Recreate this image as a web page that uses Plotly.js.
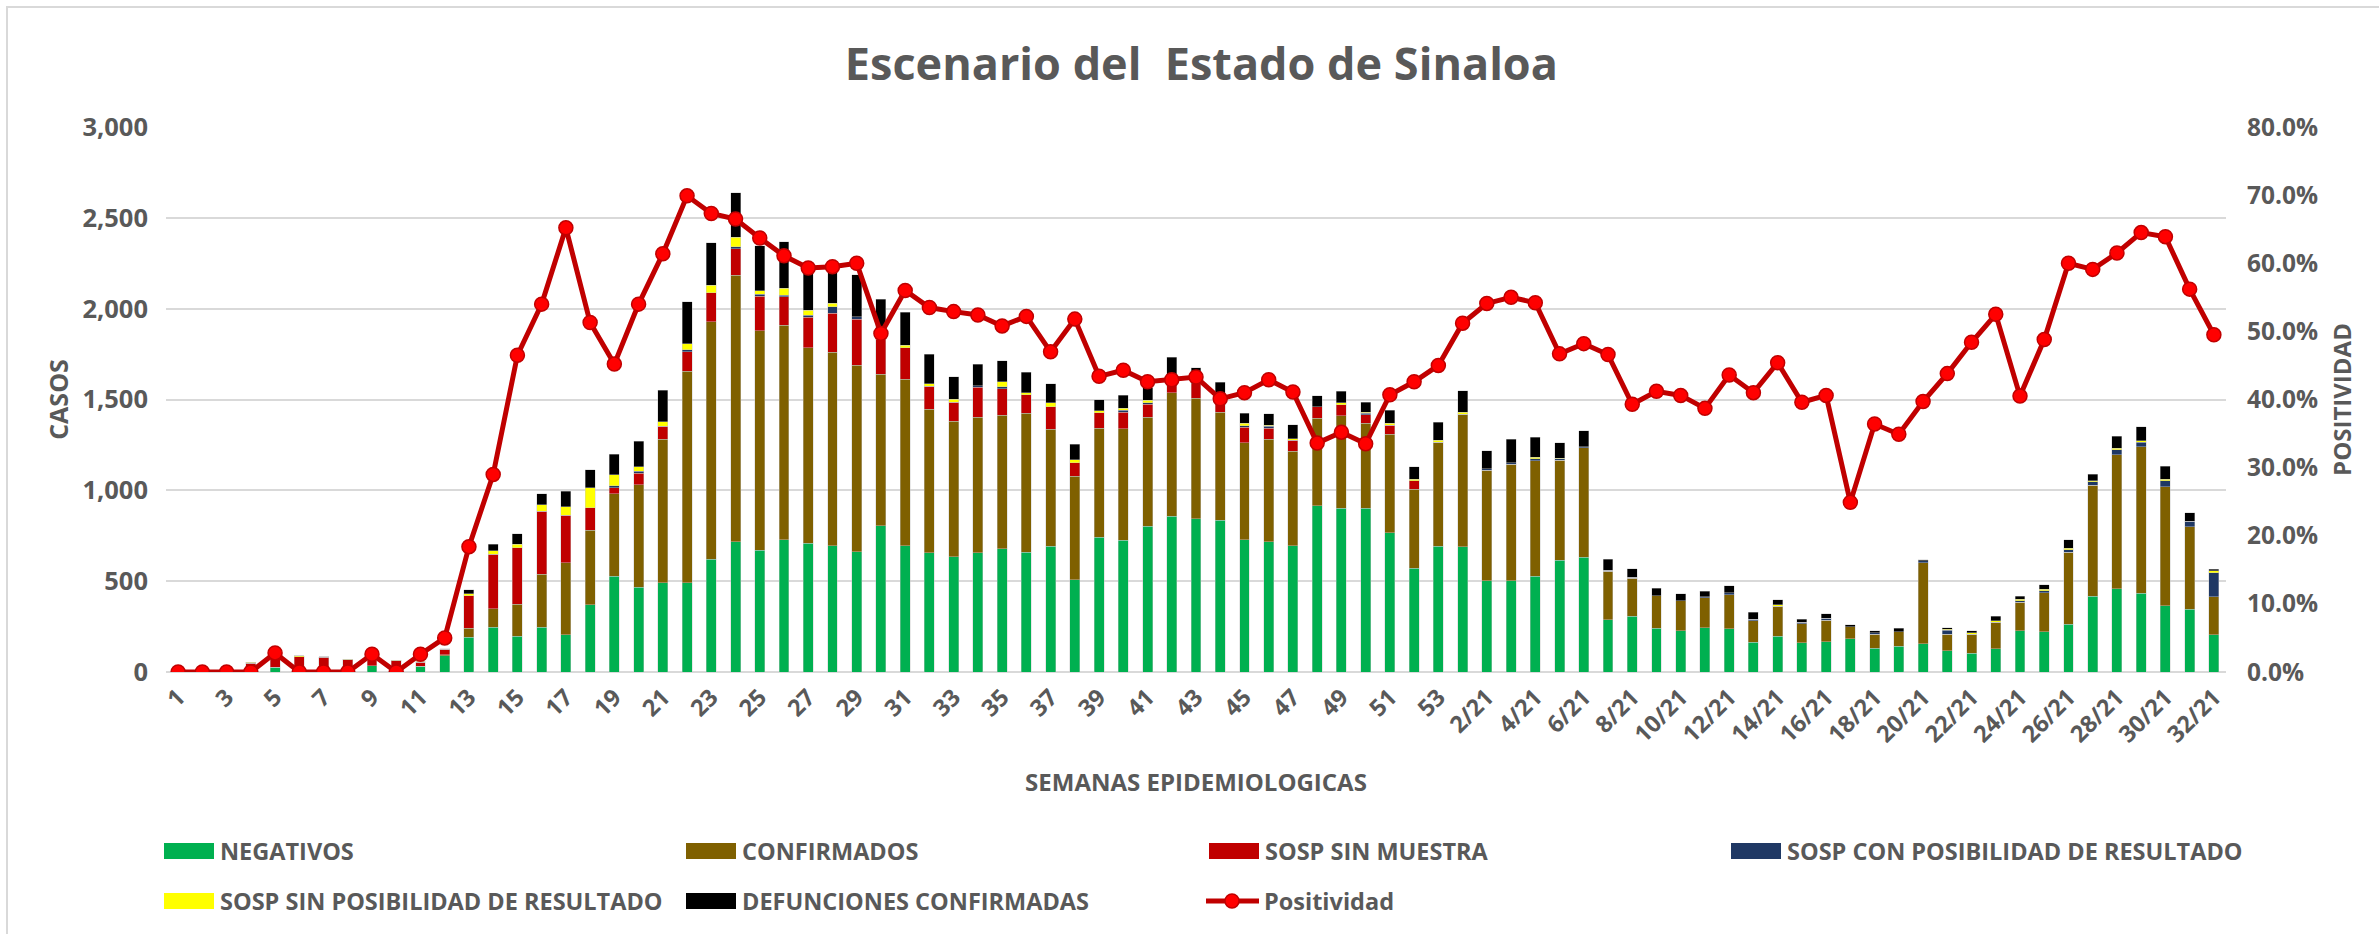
<!DOCTYPE html>
<html><head><meta charset="utf-8">
<script src="https://cdn.plot.ly/plotly-3.0.1.min.js"></script>
<style>
html,body{margin:0;padding:0;background:#fff;overflow:hidden}
#chart{position:absolute;left:0;top:0;width:2379px;height:934px}
#frame{position:absolute;left:6px;top:6px;width:2420px;height:980px;border:2px solid #d9d9d9;box-sizing:border-box;pointer-events:none}
</style>
</head><body>
<div id="chart"></div><div id="frame"></div>
<script>
// ---- categories (epidemiological weeks) ----
var weeks = ['1','2','3','4','5','6','7','8','9','10','11','12','13','14','15','16','17','18','19','20',
 '21','22','23','24','25','26','27','28','29','30','31','32','33','34','35','36','37','38','39','40',
 '41','42','43','44','45','46','47','48','49','50','51','52','53',
 '1/21','2/21','3/21','4/21','5/21','6/21','7/21','8/21','9/21','10/21','11/21','12/21','13/21','14/21','15/21','16/21',
 '17/21','18/21','19/21','20/21','21/21','22/21','23/21','24/21','25/21','26/21','27/21','28/21','29/21','30/21','31/21','32/21'];

var negativos = [0,0,0,0,27,10,20,0,35,0,31,90,191,245,198,245,204,371,528,467,
 491,491,621,717,669,728,708,695,662,804,695,656,634,656,678,658,693,508,743,725,
 801,856,843,836,728,717,695,914,901,901,767,571,693,
 689,502,502,528,615,632,287,306,241,226,243,239,163,198,161,167,
 182,132,141,156,117,104,128,228,221,263,417,458,434,365,345,206];

var confirmados = [0,0,0,0,0,0,0,0,0,0,0,5,50,102,174,293,397,410,452,565,
 791,1164,1308,1466,1210,1182,1077,1064,1027,836,917,791,747,747,734,767,643,569,599,613,
 602,682,665,593,534,565,521,482,510,467,543,434,573,
 730,608,641,636,550,602,267,211,178,167,167,187,119,165,104,119,
 67,76,80,445,91,104,146,156,215,395,610,738,806,654,454,209];

var sospSinMuestra = [0,0,0,48,60,75,60,67,30,62,22,29,178,300,313,347,263,122,35,61,
 70,109,159,146,189,156,169,217,254,191,174,126,104,165,148,100,124,76,85,93,
 70,54,80,65,85,61,61,65,61,48,48,48,0,
 0,0,0,0,0,0,0,0,0,0,0,0,0,0,0,0,
 0,0,0,0,0,0,0,0,0,0,0,0,0,0,0,0];

var sospConPosibilidad = [0,0,0,0,0,0,0,0,0,0,0,0,0,0,0,0,0,0,9,11,
 0,9,0,11,11,7,9,35,13,11,0,0,0,9,9,0,0,0,0,11,
 9,0,0,0,9,9,0,0,0,7,0,0,0,
 0,9,9,9,9,7,7,4,0,0,4,9,9,0,9,9,
 0,9,0,11,22,0,0,9,11,15,20,28,24,35,30,132];

var sospSinPosibilidad = [0,0,0,5,3,5,4,4,2,4,5,0,11,20,17,37,46,111,63,26,
 26,33,41,54,20,39,28,20,0,0,13,15,17,0,30,11,22,15,11,9,
 15,0,0,0,13,7,7,0,9,6,11,7,9,
 11,0,0,9,4,0,0,0,0,0,0,0,0,7,0,0,
 0,0,0,0,4,9,9,7,9,7,7,9,9,7,0,9];

var defunciones = [0,0,0,0,0,0,0,0,0,0,0,4,22,35,59,59,85,100,113,141,
 174,232,235,243,248,256,219,200,232,211,180,161,124,117,113,115,106,87,61,72,
 67,141,87,100,54,63,76,59,65,56,72,69,100,
 117,98,130,111,85,87,61,48,43,39,30,41,37,28,17,26,
 11,11,20,7,9,9,24,17,24,48,35,65,76,72,48,11];

// positivity, in percent
var positividad = [0,0,0,0,2.8,0,0,0,2.6,0,2.6,5.0,18.4,29.0,46.5,54.0,65.2,51.3,45.2,54.0,
 61.4,69.9,67.3,66.5,63.7,61.1,59.3,59.5,60.0,49.7,56.0,53.5,52.9,52.4,50.8,52.2,47.0,51.8,43.4,44.3,
 42.6,42.9,43.3,40.1,41.0,42.9,41.1,33.6,35.2,33.5,40.7,42.6,45.0,
 51.2,54.1,55.0,54.2,46.7,48.2,46.6,39.3,41.2,40.6,38.7,43.6,41.0,45.4,39.6,40.6,
 24.9,36.4,34.9,39.7,43.8,48.4,52.5,40.5,48.8,60.0,59.1,61.5,64.5,63.9,56.2,49.5];

var seriesNames = ['NEGATIVOS','CONFIRMADOS','SOSP SIN MUESTRA','SOSP CON POSIBILIDAD DE RESULTADO',
 'SOSP SIN POSIBILIDAD DE RESULTADO','DEFUNCIONES CONFIRMADAS'];
var seriesColors = ['#00B050','#7F6000','#C00000','#1F3864','#FFFF00','#000000'];
var seriesValues = [negativos, confirmados, sospSinMuestra, sospConPosibilidad, sospSinPosibilidad, defunciones];
var lineName = 'Positividad';

// tick labels: every other week
var tickWeeks = weeks.filter(function(w, i){ return i % 2 === 0; });

var txt = '#595959';
var FONT = 'Open Sans, Liberation Sans, sans-serif';

var traces = seriesValues.map(function(vals, i){
  return {type:'bar', name:seriesNames[i], x:weeks, y:vals,
    marker:{color:seriesColors[i], line:{color:'rgba(200,200,200,0.7)', width:0.6}},
    showlegend:false, hoverinfo:'x+y+name'};
});
traces.push({type:'scatter', mode:'lines+markers', name:lineName, x:weeks, y:positividad, yaxis:'y2',
  line:{color:'#C00000', width:5}, marker:{size:14, color:'#FF0000', line:{color:'#C00000', width:1.5}},
  showlegend:false});

// page geometry (px)
var W = 2379, H = 934, L = 166, R = 2226, T = 127, B = 672;
function px2x(p){ return (p - L) / (R - L); }
function px2y(p){ return (B - p) / (B - T); }

// custom legend (matches the wide legend keys of the source)
var shapes = [], annotations = [];
var legPos = [[164,851],[686,851],[1209,851],[1731,851],[164,901],[686,901]];
var LEGFONT = {family:FONT, size:23.5, color:txt, weight:'bold'};
seriesNames.forEach(function(n, i){
  var p = legPos[i];
  shapes.push({type:'rect', xref:'paper', yref:'paper', x0:px2x(p[0]), x1:px2x(p[0]+50),
    y0:px2y(p[1]+8), y1:px2y(p[1]-8), fillcolor:seriesColors[i], line:{width:0}});
  annotations.push({xref:'paper', yref:'paper', x:px2x(p[0]+54), y:px2y(p[1]), xanchor:'left', yanchor:'middle',
    text:n, showarrow:false, font:LEGFONT});
});
// Positividad key
shapes.push({type:'line', xref:'paper', yref:'paper', x0:px2x(1206), x1:px2x(1259), y0:px2y(901), y1:px2y(901),
  line:{color:'#C00000', width:5}});
shapes.push({type:'circle', xref:'paper', yref:'paper', x0:px2x(1225), x1:px2x(1239), y0:px2y(908), y1:px2y(894),
  fillcolor:'#FF0000', line:{color:'#C00000', width:1.5}});
annotations.push({xref:'paper', yref:'paper', x:px2x(1262), y:px2y(901), xanchor:'left', yanchor:'middle',
  text:lineName, showarrow:false, font:LEGFONT});

var layout = {
  width:W, height:H,
  paper_bgcolor:'rgba(0,0,0,0)', plot_bgcolor:'#ffffff',
  margin:{l:L, r:W-R, t:T, b:H-B, pad:0},
  barmode:'stack', bargap:0.59,
  title:{text:'Escenario del  Estado de Sinaloa', x:0.505, xref:'container', xanchor:'center',
    y:1-64/H, yref:'container', yanchor:'middle',
    font:{family:FONT, size:45, color:txt, weight:'bold'}},
  xaxis:{type:'category', categoryarray:weeks, range:[-0.5, weeks.length-0.5],
    tickmode:'array', tickvals:tickWeeks, ticktext:tickWeeks, tickangle:-45,
    showgrid:false, zeroline:false, showline:false, ticks:'', ticklabelstandoff:6,
    tickfont:{family:FONT, size:23.5, color:txt, weight:'bold'},
    title:{text:'SEMANAS EPIDEMIOLOGICAS', standoff:26, font:{family:FONT, size:24, color:txt, weight:'bold'}}},
  yaxis:{range:[0,3000], dtick:500, tickformat:',d', showgrid:true, gridcolor:'#D9D9D9', gridwidth:2,
    zeroline:true, zerolinecolor:'#D9D9D9', zerolinewidth:2, showline:false, ticks:'', ticklabelstandoff:17,
    tickfont:{family:FONT, size:25.5, color:txt, weight:'bold'},
    title:{text:'CASOS', standoff:6, font:{family:FONT, size:25, color:txt, weight:'bold'}}},
  yaxis2:{overlaying:'y', side:'right', range:[0,80], dtick:10, tickformat:'.1f', ticksuffix:'%',
    showgrid:false, zeroline:false, showline:false, ticks:'', ticklabelstandoff:20,
    tickfont:{family:FONT, size:24.5, color:txt, weight:'bold'},
    title:{text:'POSITIVIDAD', standoff:17, font:{family:FONT, size:24, color:txt, weight:'bold'}}},
  shapes:shapes, annotations:annotations,
  showlegend:false
};

Plotly.newPlot('chart', traces, layout, {staticPlot:true, displayModeBar:false});
</script>
</body></html>
